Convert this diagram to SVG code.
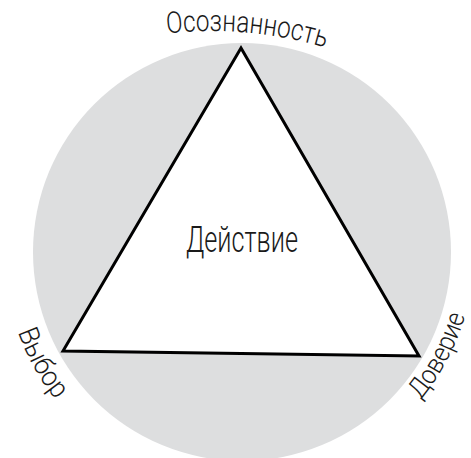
<svg xmlns="http://www.w3.org/2000/svg" width="471" height="458" viewBox="0 0 471 458">
  <defs>
    <style>
      .lbl { font-family: Roboto, "Liberation Sans", sans-serif; font-weight: 300; fill: #1a1a1a; }
    </style>
    <path id="arcTop" d="M167,33.5 A400,400 0 0 1 345,54" fill="none"/>
    <path id="arcLeft" d="M7.6,293.3 A238,238 0 0 0 89,434.3" fill="none"/>
    <path id="arcRight" d="M391.1,429.7 A232,232 0 0 0 473.1,272.2" fill="none"/>
  </defs>
  <rect width="471" height="458" fill="#ffffff"/>
  <g id="background">
    <circle cx="242" cy="252" r="209" fill="#dddedf"/>
  </g>
  <g id="triangle">
    <polygon points="241,48 63,351 419,356" fill="#ffffff" stroke="#000000" stroke-width="3" stroke-linejoin="miter"/>
  </g>
  <g id="node-action">
    <text class="lbl" x="186" y="252" font-size="37" textLength="112" lengthAdjust="spacingAndGlyphs">Действие</text>
  </g>
  <g id="node-awareness">
    <text class="lbl" font-size="30"><textPath href="#arcTop" textLength="160" lengthAdjust="spacingAndGlyphs">Осознанность</textPath></text>
  </g>
  <g id="node-choice">
    <text class="lbl" font-size="28"><textPath href="#arcLeft" startOffset="40" textLength="78" lengthAdjust="spacingAndGlyphs">Выбор</textPath></text>
  </g>
  <g id="node-trust">
    <text class="lbl" font-size="27"><textPath href="#arcRight" startOffset="42" textLength="96" lengthAdjust="spacingAndGlyphs">Доверие</textPath></text>
  </g>
  <g id="connectors"></g>
</svg>
